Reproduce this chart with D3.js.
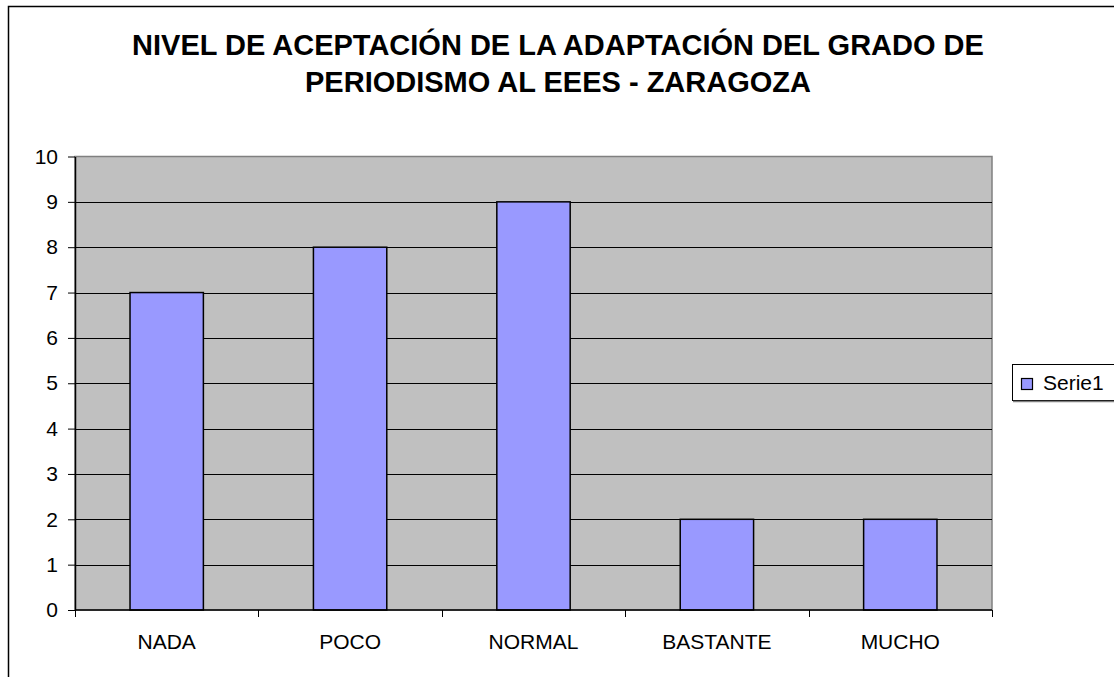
<!DOCTYPE html>
<html>
<head>
<meta charset="utf-8">
<script src="https://cdn.jsdelivr.net/npm/d3@7"></script>
<style>
  body { margin: 0; background: #fff; }
  svg { display: block; font-family: "Liberation Sans", Arial, sans-serif; }
</style>
</head>
<body>
<svg id="chart" width="1114" height="677"></svg>
<script>
const categories = ['NADA', 'POCO', 'NORMAL', 'BASTANTE', 'MUCHO'];
const values = [7, 8, 9, 2, 2];
const yTicks = [0, 1, 2, 3, 4, 5, 6, 7, 8, 9, 10];
const titleLines = ['NIVEL DE ACEPTACIÓN DE LA ADAPTACIÓN DEL GRADO DE', 'PERIODISMO AL EEES - ZARAGOZA'];
const seriesName = 'Serie1';

const svg = d3.select('#chart');
const plot = {left: 75, top: 156.5, right: 992, bottom: 610};

// outer chart border (right and bottom run off the picture)
svg.append('rect')
  .attr('x', 8.5).attr('y', 6.5)
  .attr('width', 1200).attr('height', 800)
  .attr('fill', 'none')
  .attr('stroke', '#000')
  .attr('stroke-width', 1.5);

// title
svg.append('g')
  .selectAll('text')
  .data(titleLines)
  .join('text')
  .attr('x', 558)
  .attr('y', (d, i) => 55 + i * 37)
  .attr('text-anchor', 'middle')
  .attr('font-weight', 'bold')
  .attr('font-size', 29)
  .attr('fill', '#000')
  .text(d => d);

const x = d3.scaleBand()
  .domain(categories)
  .range([plot.left, plot.right])
  .paddingInner(0.6)
  .paddingOuter(0.3);

const xEdges = d3.scaleLinear()
  .domain([0, categories.length])
  .range([plot.left, plot.right]);

const y = d3.scaleLinear()
  .domain([0, 10])
  .range([plot.bottom, plot.top]);

// plot background
svg.append('rect')
  .attr('x', plot.left).attr('y', plot.top)
  .attr('width', plot.right - plot.left)
  .attr('height', plot.bottom - plot.top)
  .attr('fill', '#c0c0c0')
  .attr('stroke', '#808080')
  .attr('stroke-width', 1.5);

// gridlines
svg.append('g')
  .selectAll('line')
  .data(yTicks.filter(d => d > 0 && d < 10))
  .join('line')
  .attr('x1', plot.left).attr('x2', plot.right)
  .attr('y1', d => Math.round(y(d)) + 0.5)
  .attr('y2', d => Math.round(y(d)) + 0.5)
  .attr('stroke', '#000')
  .attr('stroke-width', 1);

// bars
svg.append('g')
  .selectAll('rect')
  .data(values)
  .join('rect')
  .attr('x', (d, i) => x(categories[i]))
  .attr('y', d => y(d))
  .attr('width', x.bandwidth())
  .attr('height', d => y(0) - y(d))
  .attr('fill', '#9999ff')
  .attr('stroke', '#000')
  .attr('stroke-width', 1.5);

// y axis
const yAxis = svg.append('g')
  .attr('transform', 'translate(' + plot.left + ',0)')
  .call(d3.axisLeft(y).tickValues(yTicks).tickSize(7).tickPadding(10).tickSizeOuter(0));
yAxis.select('.domain').attr('stroke', '#000').attr('stroke-width', 1.5);
yAxis.selectAll('.tick line').attr('stroke', '#000');
yAxis.selectAll('.tick text')
  .attr('font-size', 21)
  .attr('font-family', '"Liberation Sans", Arial, sans-serif')
  .attr('fill', '#000');

// x axis: baseline, ticks at category boundaries, labels centred
svg.append('line')
  .attr('x1', plot.left).attr('x2', plot.right)
  .attr('y1', plot.bottom).attr('y2', plot.bottom)
  .attr('stroke', '#000').attr('stroke-width', 1.5);

svg.append('g')
  .selectAll('line')
  .data(d3.range(categories.length + 1))
  .join('line')
  .attr('x1', d => Math.round(xEdges(d)) + 0.5)
  .attr('x2', d => Math.round(xEdges(d)) + 0.5)
  .attr('y1', plot.bottom)
  .attr('y2', plot.bottom + 7)
  .attr('stroke', '#000');

svg.append('g')
  .selectAll('text')
  .data(categories)
  .join('text')
  .attr('x', d => x(d) + x.bandwidth() / 2)
  .attr('y', 649)
  .attr('text-anchor', 'middle')
  .attr('font-size', 21)
  .attr('fill', '#000')
  .text(d => d);

// legend
const legend = svg.append('g');
legend.append('rect')
  .attr('x', 1012.5).attr('y', 364.5)
  .attr('width', 200).attr('height', 36)
  .attr('fill', '#fff')
  .attr('stroke', '#000')
  .attr('stroke-width', 1);
legend.append('line')
  .attr('x1', 1013).attr('x2', 1114)
  .attr('y1', 401.5).attr('y2', 401.5)
  .attr('stroke', '#808080').attr('stroke-width', 1.5);
legend.append('rect')
  .attr('x', 1021.5).attr('y', 378.5)
  .attr('width', 11).attr('height', 11)
  .attr('fill', '#9999ff')
  .attr('stroke', '#000')
  .attr('stroke-width', 1.2);
legend.append('text')
  .attr('x', 1043)
  .attr('y', 390)
  .attr('font-size', 21)
  .attr('fill', '#000')
  .text(seriesName);
</script>
</body>
</html>
